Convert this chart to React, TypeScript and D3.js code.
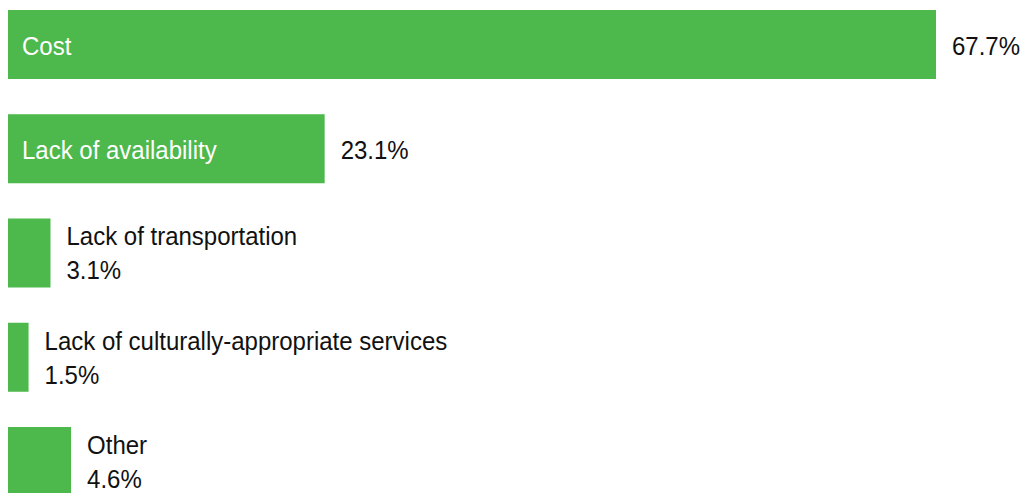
import React, { useEffect, useRef } from 'react';
import * as d3 from 'd3';

const categories = [
    'Cost',
    'Lack of availability',
    'Lack of transportation',
    'Lack of culturally-appropriate services',
    'Other',
];
const values = [67.7, 23.1, 3.1, 1.5, 4.6];

const width = 1023;
const height = 493;
const barColor = '#4db84b';

const App = () => {
    const chartRef = useRef<SVGSVGElement>(null);

    useEffect(() => {
        const svg = d3.select(chartRef.current);
        svg.selectAll('*').remove();

        const data = categories.map((c, i) => ({ name: c, value: values[i] }));

        // scala orizzontale: percentuale -> pixel
        const x = d3
            .scaleLinear()
            .domain([0, d3.max(values) as number])
            .range([8, 936]);

        // scala verticale per le barre
        const y = d3
            .scaleBand()
            .domain(categories)
            .range([10, 496])
            .paddingInner(0.338)
            .paddingOuter(0)
            .align(0);

        const font = "'Liberation Sans', Arial, sans-serif";
        const stretch = 'scale(1,1.07)';

        const rows = svg.selectAll('g.row').data(data).enter().append('g').attr('class', 'row');

        rows
            .append('rect')
            .attr('x', x(0))
            .attr('y', (d) => y(d.name) as number)
            .attr('width', (d) => x(d.value) - x(0))
            .attr('height', y.bandwidth())
            .attr('fill', barColor);

        const big = rows.filter((d) => d.value > 10);
        const small = rows.filter((d) => d.value <= 10);

        // etichette dentro la barra
        big
            .append('text')
            .attr('transform', (d) => `translate(22,${(y(d.name) as number) + y.bandwidth() / 2 + 10}) ${stretch}`)
            .attr('fill', 'white')
            .style('font-family', font)
            .style('font-size', '24px')
            .text((d) => d.name);

        big
            .append('text')
            .attr('transform', (d) => `translate(${x(d.value) + 16},${(y(d.name) as number) + y.bandwidth() / 2 + 10}) ${stretch}`)
            .attr('fill', '#111')
            .style('font-family', font)
            .style('font-size', '24px')
            .text((d) => `${d.value.toFixed(1)}%`);

        // barre piccole: nome e valore a destra
        small
            .append('text')
            .attr('transform', (d) => `translate(${x(d.value) + 16},${(y(d.name) as number) + 27}) ${stretch}`)
            .attr('fill', '#111')
            .style('font-family', font)
            .style('font-size', '24px')
            .text((d) => d.name);

        small
            .append('text')
            .attr('transform', (d) => `translate(${x(d.value) + 16},${(y(d.name) as number) + 61}) ${stretch}`)
            .attr('fill', '#111')
            .style('font-family', font)
            .style('font-size', '24px')
            .text((d) => `${d.value.toFixed(1)}%`);
    }, []);

    return (
        <svg
            ref={chartRef}
            width={width}
            height={height}
            style={{ position: 'absolute', left: 0, top: 0, background: 'white' }}
        />
    );
};

export default App;
